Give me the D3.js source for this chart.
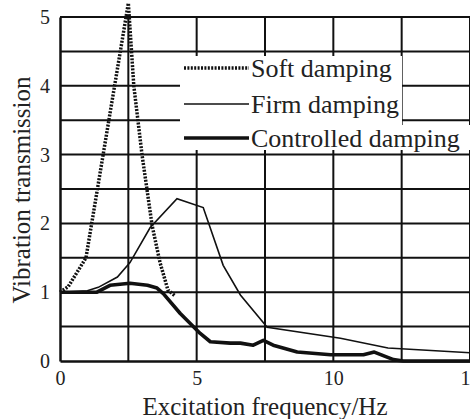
<!DOCTYPE html>
<html>
<head>
<meta charset="utf-8">
<script src="https://cdn.jsdelivr.net/npm/d3@7"></script>
<style>
  body { margin: 0; background: #fff; }
  svg { display: block; }
</style>
</head>
<body>
<svg id="chart"></svg>
<script>
// Data
const softFreq  = [0, 0.3, 0.95, 2.5, 2.7, 3.0, 3.37, 3.66, 3.95, 4.2];
const softValue = [1, 1.08, 1.5, 5.2, 4.0, 3.0, 1.97, 1.43, 1.03, 0.95];

const firmFreq  = [0, 1.0, 1.4, 2.1, 2.56, 3.3, 4.28, 5.24, 5.97, 6.6, 7.58, 10.26, 12.0, 15];
const firmValue = [1, 1.02, 1.07, 1.22, 1.43, 1.94, 2.36, 2.23, 1.39, 0.96, 0.49, 0.33, 0.19, 0.12];

const ctrlFreq  = [0, 1.35, 1.83, 2.56, 3.2, 3.55, 3.78, 4.4, 5.13, 5.5, 6.23, 6.6, 7.07, 7.44, 7.8, 8.68, 9.9, 11.1, 11.5, 12.2, 12.56, 15];
const ctrlValue = [1, 1.0, 1.1, 1.13, 1.1, 1.06, 0.98, 0.69, 0.4, 0.28, 0.26, 0.26, 0.23, 0.3, 0.23, 0.13, 0.09, 0.09, 0.13, 0.02, 0, 0];

const xTicks = [0, 5, 10, 15];
const yTicks = [0, 1, 2, 3, 4, 5];
const legendLabels = ["Soft damping", "Firm damping", "Controlled damping"];

const W = 470, H = 419;
const font = "'Liberation Serif', 'Times New Roman', serif";

const svg = d3.select("#chart").attr("width", W).attr("height", H);

const x = d3.scaleLinear().domain([0, 15]).range([60, 470]);
const y = d3.scaleLinear().domain([0, 5]).range([361, 17]);

// grid lines every 0.5 / 2.5
const grid = svg.append("g");
grid.selectAll(".hg")
  .data(d3.range(0.5, 5.01, 0.5))
  .enter().append("line")
  .attr("x1", x(0)).attr("x2", x(15))
  .attr("y1", d => y(d)).attr("y2", d => y(d))
  .attr("stroke", "#111").attr("stroke-width", 2);
grid.selectAll(".vg")
  .data(d3.range(2.5, 15.01, 2.5))
  .enter().append("line")
  .attr("x1", d => x(d)).attr("x2", d => x(d))
  .attr("y1", y(0)).attr("y2", y(5))
  .attr("stroke", "#111").attr("stroke-width", 2);

// axes
const xAxis = svg.append("g")
  .attr("transform", `translate(0,${y(0)})`)
  .call(d3.axisBottom(x).tickValues(xTicks).tickFormat(d3.format("d")).tickSize(0).tickPadding(10));
const yAxis = svg.append("g")
  .attr("transform", `translate(${x(0)},0)`)
  .call(d3.axisLeft(y).tickValues(yTicks).tickFormat(d3.format("d")).tickSize(0).tickPadding(10));
[xAxis, yAxis].forEach(a => {
  a.select(".domain").attr("stroke", "#111").attr("stroke-width", 2.5);
  a.selectAll("text")
    .attr("fill", "#222")
    .style("font-family", font)
    .style("font-size", "20px");
});

// legend background (hides the grid behind it)
svg.append("rect").attr("x", 180).attr("y", 56).attr("width", 222).attr("height", 94).attr("fill", "#fff");
svg.append("rect").attr("x", 400).attr("y", 125).attr("width", 70).attr("height", 25).attr("fill", "#fff");

// curves
const line = d3.line().x(d => x(d[0])).y(d => y(d[1]));
const soft = d3.zip(softFreq, softValue);
const firm = d3.zip(firmFreq, firmValue);
const ctrl = d3.zip(ctrlFreq, ctrlValue);

svg.append("path").datum(firm).attr("d", line)
  .attr("fill", "none").attr("stroke", "#111").attr("stroke-width", 1.6);
svg.append("path").datum(ctrl).attr("d", line)
  .attr("fill", "none").attr("stroke", "#111").attr("stroke-width", 3.6)
  .attr("stroke-linejoin", "round");
svg.append("path").datum(soft).attr("d", line)
  .attr("fill", "none").attr("stroke", "#111").attr("stroke-width", 3.5)
  .attr("stroke-dasharray", "2,1.4");

// legend
const legendStyles = [
  {w: 3.5, dash: "2,1.4"},
  {w: 1.6, dash: null},
  {w: 3.6, dash: null}
];
const legendY = [68, 104, 138];
legendLabels.forEach((lab, i) => {
  svg.append("line")
    .attr("x1", 184).attr("x2", 249)
    .attr("y1", legendY[i]).attr("y2", legendY[i])
    .attr("stroke", "#111").attr("stroke-width", legendStyles[i].w)
    .attr("stroke-dasharray", legendStyles[i].dash);
  svg.append("text")
    .attr("x", 251).attr("y", legendY[i] + 9)
    .attr("fill", "#222")
    .style("font-family", font).style("font-size", "26px")
    .text(lab);
});

// axis titles
svg.append("text")
  .attr("x", 265).attr("y", 415)
  .attr("text-anchor", "middle")
  .attr("fill", "#222")
  .style("font-family", font).style("font-size", "25px")
  .text("Excitation frequency/Hz");
svg.append("text")
  .attr("transform", "translate(30,190) rotate(-90)")
  .attr("text-anchor", "middle")
  .attr("fill", "#222")
  .style("font-family", font).style("font-size", "25px")
  .text("Vibration transmission");
</script>
</body>
</html>
